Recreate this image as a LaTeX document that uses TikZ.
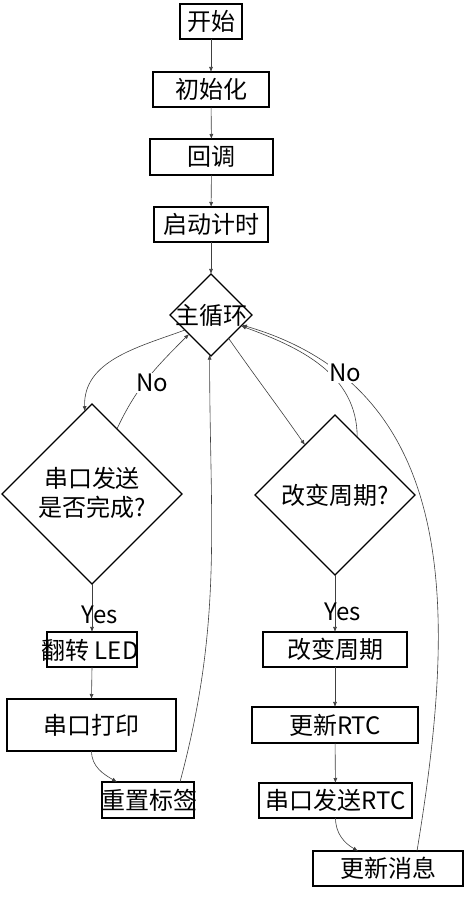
\documentclass[tikz,border=0pt]{standalone}
\usepackage{fontspec}
\setmainfont{Noto Sans CJK SC}
\usetikzlibrary{shapes.geometric,arrows.meta,calc}
\begin{document}
\begin{tikzpicture}[x=1pt,y=1pt,
  box/.style={draw=black,line width=1.1pt,inner sep=0pt,outer sep=0pt,rectangle},
  dia/.style={draw=black,line width=1.1pt,inner sep=0pt,outer sep=0pt,diamond},
  txt/.style={inner sep=0pt,font=\fontsize{24}{29}\selectfont},
  lab/.style={inner sep=1pt,fill=white,font=\fontsize{24}{29}\selectfont},
  conn/.style={draw=black!75,line width=0.6pt,-{Latex[length=5pt,width=4pt]}},
]
\fill[white] (0,0) rectangle (464,900);
\useasboundingbox (0,0) rectangle (464,900);

% main column
\node[box,minimum width=62pt,minimum height=35pt,txt] (start) at (211,878.5) {开始};
\node[box,minimum width=116pt,minimum height=35pt,txt] (init) at (211,810.5) {初始化};
\node[box,minimum width=123pt,minimum height=36pt,txt] (cb) at (211.5,743) {回调};
\node[box,minimum width=114pt,minimum height=35pt,txt] (timer) at (211,675.5) {启动计时};
\node[dia,minimum width=82pt,minimum height=82pt] (main) at (211,585) {};
\node[txt] (maint) at (main.center) {主循环};

% left branch
\node[dia,minimum width=180pt,minimum height=180pt] (d1) at (92,406) {};
\node[txt,align=center] (d1t) at (92,407) {串口发送\\是否完成?};
\node[box,minimum width=90pt,minimum height=35pt] (led) at (92,250.5) {};
\node[txt] (ledt) at (90,250) {翻转 LED};
\node[box,minimum width=169pt,minimum height=52pt,txt] (prt) at (91.5,175) {串口打印};
\node[box,minimum width=92pt,minimum height=36pt] (rst) at (148,100) {};
\node[txt] (rstt) at (149.5,100) {重置标签};

% right branch
\node[dia,minimum width=160pt,minimum height=160pt] (d2) at (335,405) {};
\node[txt] (d2t) at (335,405) {改变周期?};
\node[box,minimum width=144pt,minimum height=35pt,txt] (per) at (335,250.5) {改变周期};
\node[box,minimum width=166pt,minimum height=36pt,txt] (rtc) at (335,175) {更新RTC};
\node[box,minimum width=153pt,minimum height=35pt,txt] (srtc) at (335.5,99.5) {串口发送RTC};
\node[box,minimum width=150pt,minimum height=35pt,txt] (upd) at (388,31.5) {更新消息};

\coordinate (rstin) at ($(rst.north west)+(15,0)$);
\coordinate (rstout) at ($(rst.north east)+(-14,0)$);
\coordinate (updin) at ($(upd.north west)+(45,0)$);
\coordinate (updout) at ($(upd.north east)+(-46,0)$);

% connectors
\draw[conn] (start) -- (init);
\draw[conn] (init) -- (cb);
\draw[conn] (cb) -- (timer);
\draw[conn] (timer) -- (main);
\draw[conn] (main.210) to[out=200,in=92] (d1.95);
\draw[conn] (d1.69) to[out=65,in=225] (main.221);
\draw[conn] (d1.south) -- (led.north);
\draw[conn] (led.south) -- (prt.north);
\draw[conn] (prt.south) to[out=-90,in=150] (rstin);
\draw[conn] (rstout) to[out=75,in=-90] (main.268);
\draw[conn] (main.307) to[out=-55,in=125] (d2.121);
\draw[conn] (d2.69) to[out=90,in=-20] (main.-20);
\draw[conn] (updout) .. controls (455,280) and (465,510) .. (main.-18);
\draw[conn] (d2.south) -- (per.north);
\draw[conn] (per) -- (rtc);
\draw[conn] (rtc) -- (srtc);
\draw[conn] (srtc.south) to[out=-90,in=150] (updin);

% labels
\node[lab] (no1) at (152,517) {No};
\node[lab] (no2) at (345,527) {No};
\node[txt] (yes1) at (99.5,285) {Yes};
\node[txt] (yes2) at (343,288) {Yes};
\end{tikzpicture}
\end{document}
